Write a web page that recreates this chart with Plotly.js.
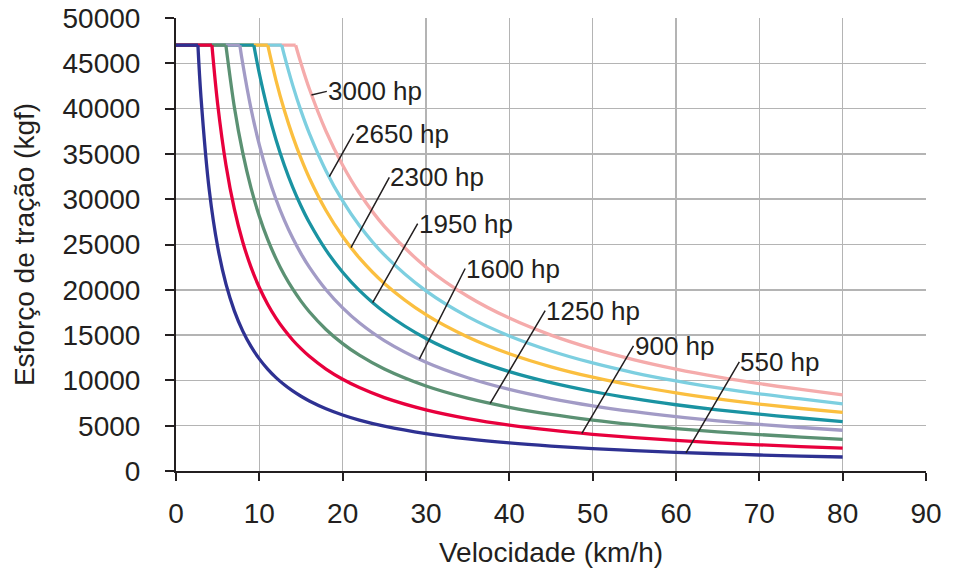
<!DOCTYPE html>
<html>
<head>
<meta charset="utf-8">
<script src="https://cdn.plot.ly/plotly-3.0.1.min.js"></script>
<style>html,body{margin:0;padding:0;background:#fff;}#chart{width:953px;height:583px;}</style>
</head>
<body>
<div id="chart"></div>
<script>
// Velocities (km/h) at which the curves were read
const velocity = [3,4,5,6,7,8,9,10,11,12,13,14,15,16,18,20,22,25,30,35,40,45,50,55,60,65,70,75,80];
// Maximum (adhesion-limited) effort, kgf
const maxEffort = 47000;
// Series names (power)
const seriesNames = ["550 hp","900 hp","1250 hp","1600 hp","1950 hp","2300 hp","2650 hp","3000 hp"];
// Velocity where each curve leaves the flat 47000 kgf limit
const breakVelocity = [2.63, 4.31, 5.98, 7.66, 9.34, 11.01, 12.69, 14.36];
// Tractive effort values (kgf) read at each velocity (null = still on the flat limit)
const effort550  = [41250,30940,24750,20625,17680,15470,13750,12375,11250,10310,9519,8839,8250,7734,6875,6188,5625,4950,4125,3536,3094,2750,2475,2250,2063,1904,1768,1650,1547];
const effort900  = [null,null,40500,33750,28930,25310,22500,20250,18410,16875,15580,14460,13500,12660,11250,10125,9205,8100,6750,5786,5063,4500,4050,3682,3375,3115,2893,2700,2531];
const effort1250 = [null,null,null,46875,40180,35160,31250,28125,25570,23440,21630,20090,18750,17580,15625,14060,12780,11250,9375,8036,7031,6250,5625,5114,4688,4327,4018,3750,3480];
const effort1600 = [null,null,null,null,null,45000,40000,36000,32730,30000,27690,25710,24000,22500,20000,18000,16360,14400,12000,10290,9000,8000,7200,6545,6000,5538,5143,4800,4500];
const effort1950 = [null,null,null,null,null,null,null,43875,39890,36560,33750,31340,29250,27420,24375,21940,19940,17550,14625,12540,10970,9750,8775,7977,7313,6750,6268,5850,5460];
const effort2300 = [null,null,null,null,null,null,null,null,null,43125,39810,36960,34500,32340,28750,25875,23520,20700,17250,14790,12940,11500,10350,9409,8625,7962,7393,6900,6469];
const effort2650 = [null,null,null,null,null,null,null,null,null,null,45870,42590,39750,37270,33125,29810,27100,23850,19875,17040,14910,13250,11925,10840,9938,9173,8518,7950,7420];
const effort3000 = [null,null,null,null,null,null,null,null,null,null,null,null,45000,42190,37500,33750,30680,27000,22500,19290,16875,15000,13500,12270,11250,10385,9643,9000,8400];
const effortSeries = [effort550,effort900,effort1250,effort1600,effort1950,effort2300,effort2650,effort3000];
const colors = ["#2e3192","#e8003d","#5b9173","#a29bc6","#1a93a2","#fbbf3f","#7dcfe0","#f5abab"];

// Label leader lines: point on curve and label anchor (data units)
const labelHeadX = [61.2, 48.7, 37.7, 29.2, 23.6, 21.0, 18.4, 16.25];
const labelHeadY = [2000, 4160, 7460, 12350, 18580, 24650, 32500, 41500];
const labelTailX = [67.6, 54.9, 44.3, 34.7, 29.0, 25.6, 21.3, 18.1];
const labelTailY = [12050, 13800, 17700, 22350, 27300, 32400, 37250, 41900];

const traces = [];
for (let s = effortSeries.length - 1; s >= 0; s--) {
  const xs = [breakVelocity[s]], ys = [maxEffort];
  velocity.forEach((v, i) => { if (effortSeries[s][i] !== null) { xs.push(v); ys.push(effortSeries[s][i]); } });
  traces.push({x: [0, breakVelocity[s]], y: [maxEffort, maxEffort], mode: 'lines', showlegend: false, hoverinfo: 'skip',
    line: {color: colors[s], width: 3.3}});
  traces.push({x: xs, y: ys, mode: 'lines', name: seriesNames[s], showlegend: false,
    line: {color: colors[s], width: 3.3, shape: 'spline', smoothing: 1}});
}

const annotations = seriesNames.map((n, s) => ({
  x: labelHeadX[s], y: labelHeadY[s], xref: 'x', yref: 'y',
  ax: labelTailX[s], ay: labelTailY[s], axref: 'x', ayref: 'y',
  text: n, showarrow: true, arrowhead: 0, arrowwidth: 1.5, arrowcolor: '#231f20',
  xanchor: 'left', yanchor: 'middle', borderpad: 0,
  font: {family: 'Liberation Sans, Arial, sans-serif', size: 26, color: '#231f20'}
}));

const layout = {
  width: 953, height: 583,
  margin: {l: 176, r: 27, t: 18, b: 112},
  paper_bgcolor: '#ffffff', plot_bgcolor: '#ffffff',
  font: {family: 'Liberation Sans, Arial, sans-serif', size: 28, color: '#231f20'},
  xaxis: {
    range: [0, 90], tickmode: 'linear', tick0: 0, dtick: 10,
    showgrid: true, gridcolor: '#b4b4b4', gridwidth: 1.5,
    showline: true, linecolor: '#231f20', linewidth: 2,
    ticks: 'outside', ticklen: 8, tickwidth: 2, tickcolor: '#231f20',
    ticklabelstandoff: 8,
    zeroline: false, fixedrange: true,
    title: {text: 'Velocidade (km/h)', standoff: 15, font: {size: 28}}
  },
  yaxis: {
    range: [0, 50000], tickmode: 'linear', tick0: 0, dtick: 5000,
    showgrid: true, gridcolor: '#b4b4b4', gridwidth: 1.5,
    showline: true, linecolor: '#231f20', linewidth: 2,
    ticks: 'outside', ticklen: 9, tickwidth: 2, tickcolor: '#231f20',
    ticklabelstandoff: 19,
    zeroline: false, fixedrange: true, tickformat: 'd',
    title: {text: 'Esforço de tração (kgf)', standoff: 20, font: {size: 28}}
  },
  annotations: annotations
};

Plotly.newPlot('chart', traces, layout, {displayModeBar: false, staticPlot: true});
</script>
</body>
</html>
